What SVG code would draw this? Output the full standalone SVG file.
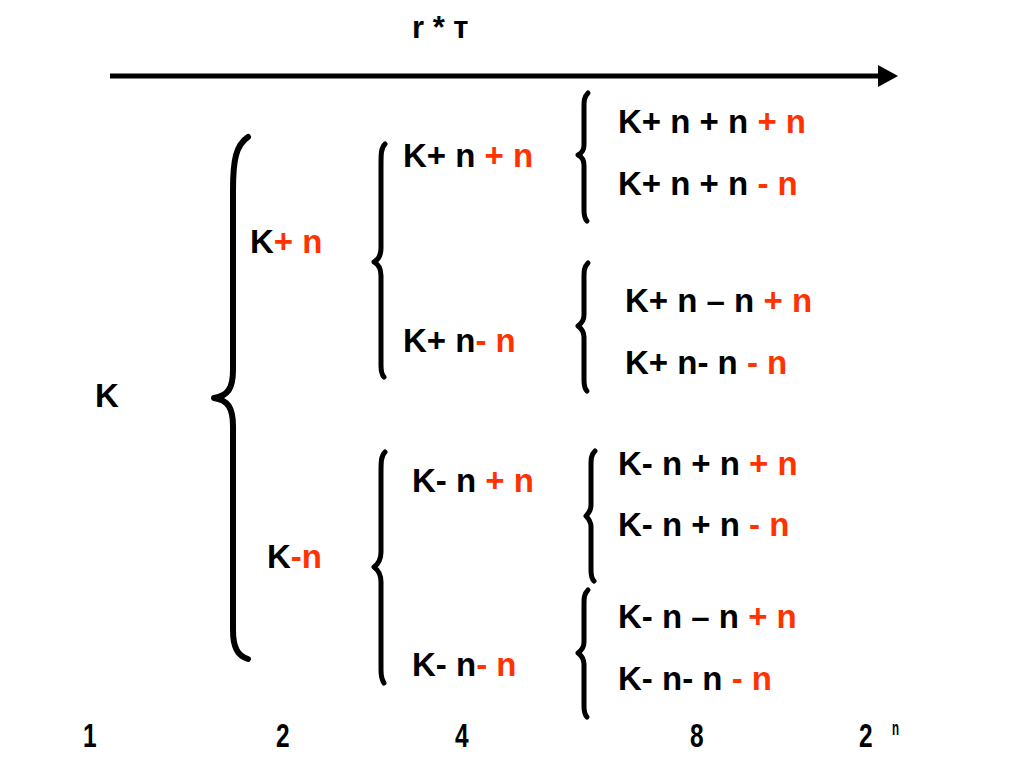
<svg xmlns="http://www.w3.org/2000/svg" width="1024" height="768" viewBox="0 0 1024 768">
<style>
  text { font-family: "Liberation Sans", Arial, Helvetica, sans-serif; font-weight: bold; font-size: 33px; fill: #000; }
  .r { fill: #ff3300; }
  .num { font-size: 34px; }
  .sup { font-size: 21px; }
  .title { font-size: 31px; }
  .brace { fill: none; stroke: #000; stroke-width: 5; stroke-linecap: round; stroke-linejoin: round; }
  .big { stroke-width: 6; }
  .axis { stroke: #000; stroke-width: 5; }
</style>
<rect width="1024" height="768" fill="#fff"/>

<g id="connectors">
  <line class="axis" x1="110" y1="76" x2="878" y2="76"/>
  <path d="M878,65 L898,76 L878,87 z" fill="#000"/>
  <path class="brace big" d="M248,137 C236,145 233,160 233,190 L233,370 C233,388 228,396 214,398 C228,400 233,408 233,426 L233,630 C233,648 238,656 248,659"/>
  <path class="brace" d="M385,144 C381,148 381,154 381,165 L381,248 C381,256 378,260 374,262 C378,264 381,268 381,276 L381,365 C381,372 382,375 384,377"/>
  <path class="brace" d="M385,452 C381,456 381,462 381,473 L381,552 C381,560 378,564 374,567 C378,570 381,574 381,582 L381,670 C381,677 382,680 384,683"/>
  <path class="brace" d="M588,93 C584,97 584,101 584,108 L584,145 C584,150 582,153 578,155 C582,157 584,160 584,165 L584,210 C584,216 585,219 587,221"/>
  <path class="brace" d="M588,263 C584,267 584,271 584,278 L584,315 C584,320 582,323 578,326 C582,329 584,332 584,337 L584,380 C584,386 585,389 587,391"/>
  <path class="brace" d="M595,451 C591,455 591,459 591,466 L591,505 C591,510 589,513 586,516 C589,519 591,522 591,527 L591,570 C591,576 592,579 594,581"/>
  <path class="brace" d="M588,590 C584,594 584,598 584,605 L584,642 C584,647 582,650 578,653 C582,656 584,659 584,664 L584,706 C584,712 585,715 587,717"/>
</g>

<g id="title"><text class="title" x="412" y="38">r * т</text></g>

<g id="n-K"><text x="95" y="407">K</text></g>
<g id="n-Kp"><text x="250" y="253" xml:space="preserve">K<tspan class="r">+ n</tspan></text></g>
<g id="n-Km"><text x="267" y="568" xml:space="preserve">K<tspan class="r">-n</tspan></text></g>

<g id="n-Kpp"><text x="403" y="167" xml:space="preserve">K+ n <tspan class="r">+ n</tspan></text></g>
<g id="n-Kpm"><text x="403" y="352" xml:space="preserve">K+ n<tspan class="r">- n</tspan></text></g>
<g id="n-Kmp"><text x="412" y="492" xml:space="preserve">K- n <tspan class="r">+ n</tspan></text></g>
<g id="n-Kmm"><text x="412" y="676" xml:space="preserve">K- n<tspan class="r">- n</tspan></text></g>

<g id="n-Kppp"><text x="618" y="133" xml:space="preserve">K+ n + n <tspan class="r">+ n</tspan></text></g>
<g id="n-Kppm"><text x="618" y="195" xml:space="preserve">K+ n + n <tspan class="r">- n</tspan></text></g>
<g id="n-Kpmp"><text x="625" y="312" xml:space="preserve">K+ n – n <tspan class="r">+ n</tspan></text></g>
<g id="n-Kpmm"><text x="625" y="374" xml:space="preserve">K+ n- n <tspan class="r">- n</tspan></text></g>
<g id="n-Kmpp"><text x="618" y="475" xml:space="preserve">K- n + n <tspan class="r">+ n</tspan></text></g>
<g id="n-Kmpm"><text x="618" y="536" xml:space="preserve">K- n + n <tspan class="r">- n</tspan></text></g>
<g id="n-Kmmp"><text x="618" y="628" xml:space="preserve">K- n – n <tspan class="r">+ n</tspan></text></g>
<g id="n-Kmmm"><text x="618" y="690" xml:space="preserve">K- n- n <tspan class="r">- n</tspan></text></g>

<g id="scale">
  <text class="num" transform="translate(83,747) scale(0.72,1)">1</text>
  <text class="num" transform="translate(276,747) scale(0.72,1)">2</text>
  <text class="num" transform="translate(455,747) scale(0.72,1)">4</text>
  <text class="num" transform="translate(690,747) scale(0.72,1)">8</text>
  <text class="num" transform="translate(859,747) scale(0.72,1)">2</text>
  <text class="sup" transform="translate(892,735) scale(0.55,1)">n</text>
</g>
</svg>
